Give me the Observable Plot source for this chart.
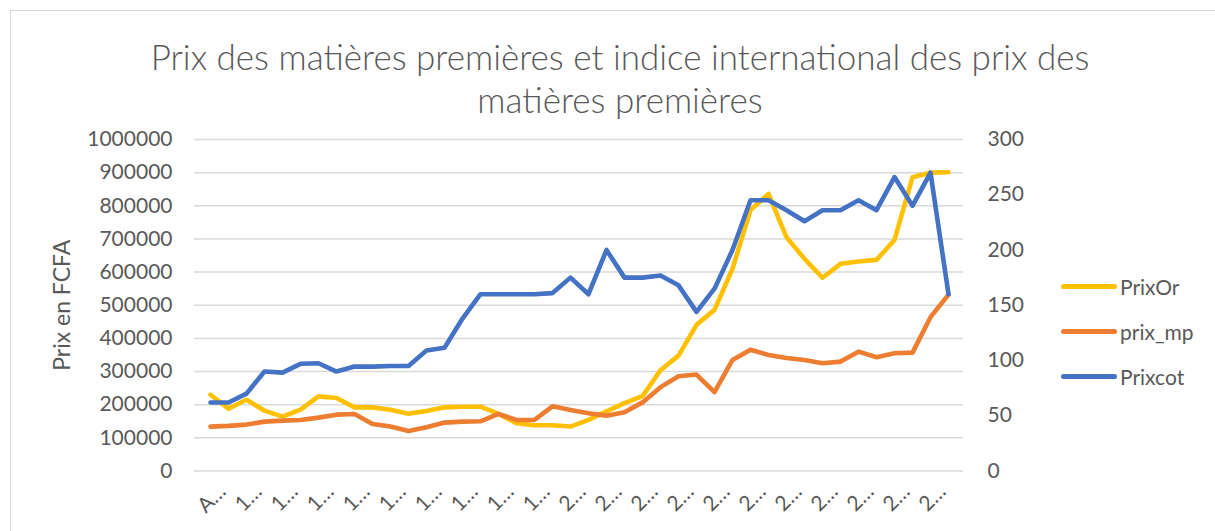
<!DOCTYPE html>
<html>
<head>
<meta charset="utf-8">
<script src="https://cdn.jsdelivr.net/npm/d3@7"></script>
<script src="https://cdn.jsdelivr.net/npm/@observablehq/plot@0.6"></script>
<style>
  html, body { margin: 0; padding: 0; background: #fff; overflow: hidden; }
  #wrap { position: relative; width: 1215px; height: 531px; font-family: Lato, "Liberation Sans", sans-serif; color: #595959; }
  #frame { position: absolute; left: 10px; top: 10px; right: -4px; bottom: -4px; border: 1.5px solid #d9d9d9; }
  #title { position: absolute; left: 120px; width: 1000px; top: 35px; text-align: center; font-size: 35px; line-height: 43px; font-weight: 300; color: #595959; }
  #chart { position: absolute; left: 0; top: 0; }
  .leg { position: absolute; left: 1061px; height: 30px; display: flex; align-items: center; font-size: 21px; color: #595959; }
  .leg span.sw { display: inline-block; width: 56px; height: 5px; border-radius: 3px; margin-right: 3px; }
</style>
</head>
<body>
<div id="wrap">
  <div id="frame"></div>
  <div id="title"></div>
  <div id="chart"></div>
  <div id="legend"></div>
</div>
<script>
// ---- Data ----
const titleText = "Prix des matières premières et indice international des prix des matières premières";
const yLabel = "Prix en FCFA";
const categories = [
  "Année 1980","1981","1982","1983","1984","1985","1986","1987","1988","1989",
  "1990","1991","1992","1993","1994","1995","1996","1997","1998","1999",
  "2000","2001","2002","2003","2004","2005","2006","2007","2008","2009",
  "2010","2011","2012","2013","2014","2015","2016","2017","2018","2019",
  "2020","2021"
];
const seriesNames = ["PrixOr", "prix_mp", "Prixcot"];
const seriesColors = ["#FFC000", "#ED7D31", "#4472C4"];
// left axis (FCFA)
const prixOr = [
  230000,188000,215000,182000,164000,185000,225000,220000,192000,192000,
  185000,173000,181000,192000,194000,194000,172000,144000,138000,138000,
  134000,154000,180000,205000,226000,304000,348000,441000,486000,610000,
  787000,836000,705000,640000,583000,625000,632000,637000,697000,886000,
  900000,901000
];
const prixMp = [
  134000,136000,140000,149000,152000,154000,161000,170000,172000,142000,
  134000,121000,132000,146000,149000,150000,172000,154000,154000,195000,
  184000,174000,167000,177000,207000,253000,286000,291000,238000,335000,
  366000,350000,341000,335000,325000,330000,360000,343000,355000,357000,
  464000,532000
];
// right axis (index)
const prixCot = [
  62,62,70,90,89,97,97.5,90,94.5,94.5,
  95,95,109,111.5,138,160,160,160,160,161,
  175,160,200,175,175,177,168,144,165,200,
  245,245,236,226,236,236,245,236,266,240,
  270,160
];
const leftTicks = [0,100000,200000,300000,400000,500000,600000,700000,800000,900000,1000000];
const rightTicks = [0,50,100,150,200,250,300];
const leftMax = 1000000, rightMax = 300;

// ---- Build ----
document.getElementById("title").textContent = titleText;
const k = leftMax / rightMax;
const rows = [];
categories.forEach((c, i) => {
  rows.push({cat: c, s: seriesNames[0], v: prixOr[i]});
  rows.push({cat: c, s: seriesNames[1], v: prixMp[i]});
  rows.push({cat: c, s: seriesNames[2], v: prixCot[i] * k});
});
const lineOpts = (name, color) => ({
  filter: d => d.s === name, x: "cat", y: "v", stroke: color,
  strokeWidth: 4.6, strokeLinecap: "round", strokeLinejoin: "round"
});

const chart = Plot.plot({
  width: 1215, height: 531,
  marginLeft: 194, marginRight: 252, marginTop: 139, marginBottom: 60.5,
  style: {fontFamily: "Lato, 'Liberation Sans', sans-serif", fontSize: "21px", color: "#595959", background: "transparent"},
  x: {type: "point", domain: categories, padding: 0.5},
  y: {domain: [0, leftMax]},
  marks: [
    Plot.gridY(leftTicks, {stroke: "#d9d9d9", strokeOpacity: 1, strokeWidth: 1.5}),
    Plot.axisY(leftTicks, {anchor: "left", tickSize: 0, tickPadding: 22, tickFormat: d => String(d), label: null}),
    Plot.axisY([], {anchor: "left", tickSize: 0, fontSize: 23,
      label: yLabel, labelAnchor: "center", labelArrow: "none", labelOffset: 141}),
    Plot.axisY(rightTicks.map(t => t * k), {anchor: "right", tickSize: 0, tickPadding: 24,
      tickFormat: d => String(Math.round(d / k)), label: null}),
    Plot.axisX(categories.filter((d, i) => i % 2 === 0), {anchor: "bottom", tickSize: 0, tickPadding: 17,
      tickRotate: -45, tickFormat: d => d[0] + "…", label: null, dx: 12}),
    Plot.lineY(rows, lineOpts(seriesNames[0], seriesColors[0])),
    Plot.lineY(rows, lineOpts(seriesNames[1], seriesColors[1])),
    Plot.lineY(rows, lineOpts(seriesNames[2], seriesColors[2]))
  ]
});
document.getElementById("chart").appendChild(chart);

const legend = document.getElementById("legend");
const legTops = [271, 316, 361];
seriesNames.forEach((n, i) => {
  const el = document.createElement("div");
  el.className = "leg";
  el.style.top = legTops[i] + "px";
  el.innerHTML = `<span class="sw" style="background:${seriesColors[i]}"></span><span>${n}</span>`;
  legend.appendChild(el);
});
</script>
</body>
</html>
